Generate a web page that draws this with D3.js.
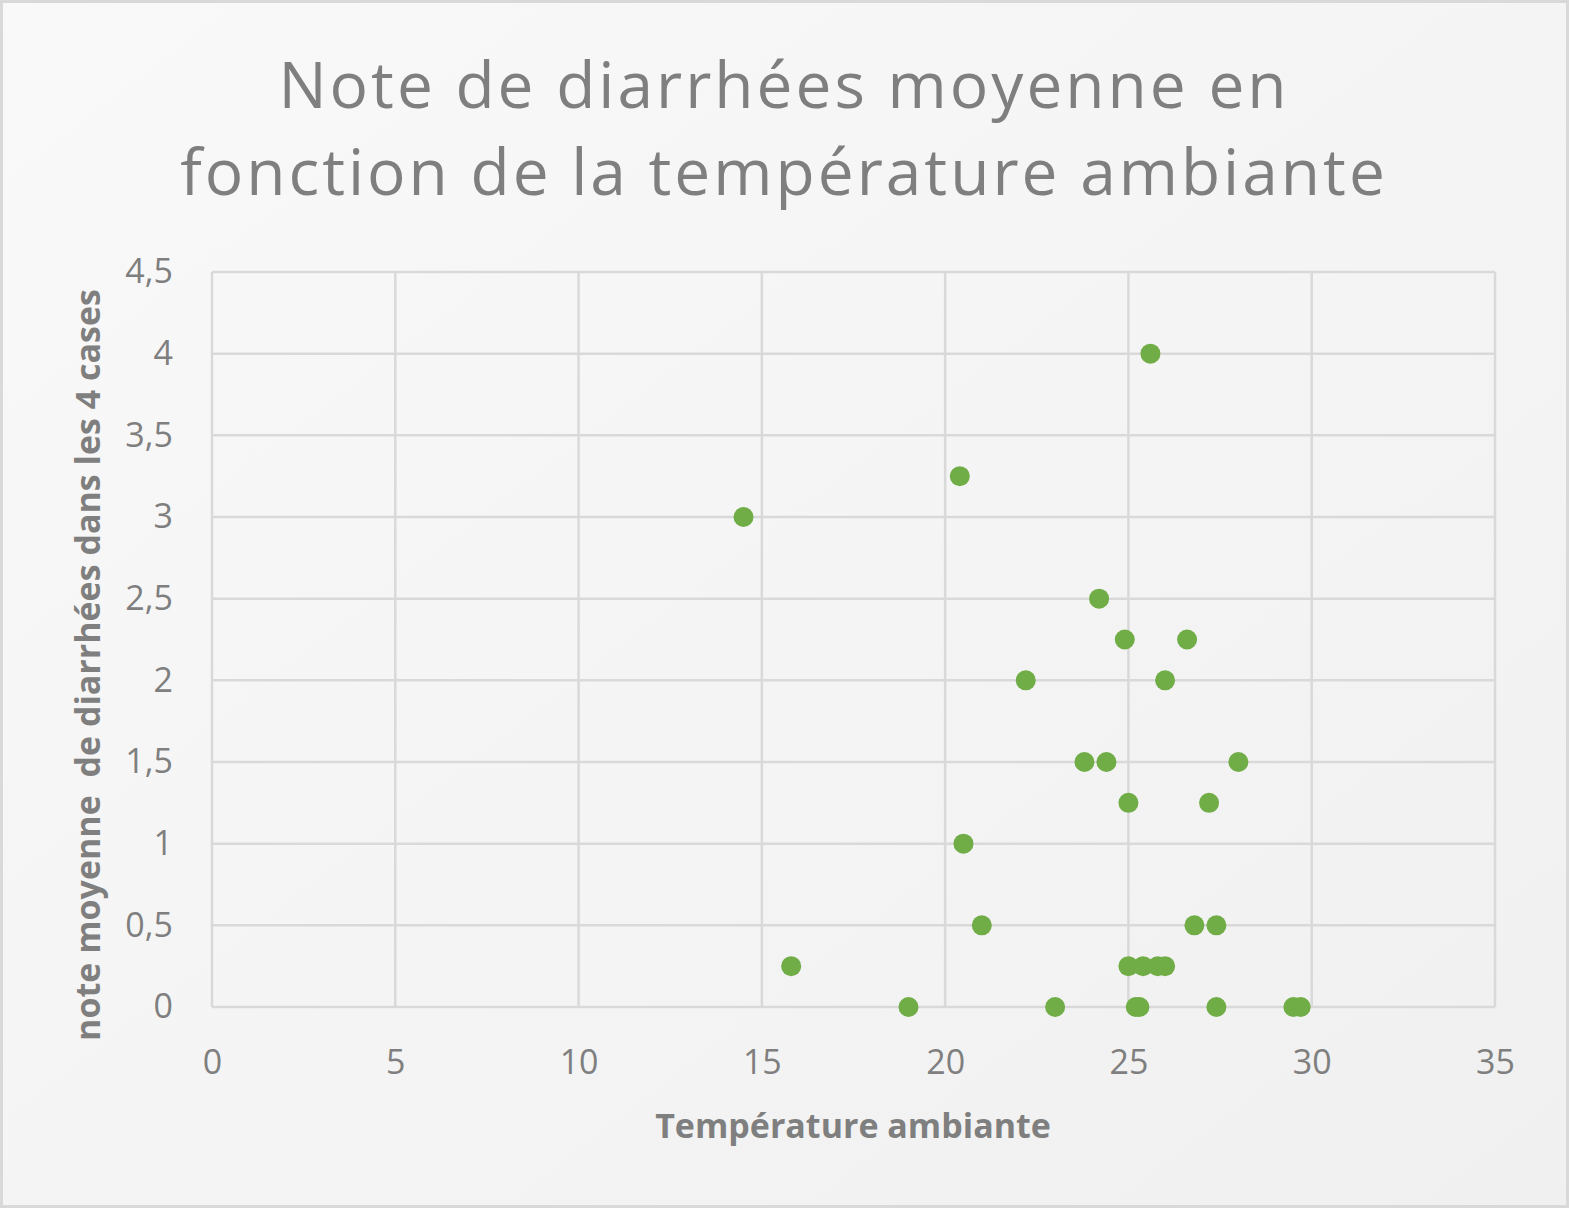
<!DOCTYPE html>
<html><head><meta charset="utf-8">
<script src="https://cdn.jsdelivr.net/npm/d3@7"></script>
<style>html,body{margin:0;padding:0;background:#fff;}svg{display:block;}</style>
</head><body>
<script>
const titleLines = ["Note de diarrhées moyenne en", "fonction de la température ambiante"];
const xLabel = "Température ambiante";
const yLabel = "note moyenne  de diarrhées dans les 4 cases";
const xTicks = [0,5,10,15,20,25,30,35];
const yTicks = [0,0.5,1,1.5,2,2.5,3,3.5,4,4.5];
const temperature = [14.5,15.8,19.0,20.4,20.5,21.0,22.2,23.0,23.8,24.2,24.4,24.9,25.0,25.0,25.2,25.3,25.4,25.6,25.8,26.0,26.0,26.6,26.8,27.2,27.4,27.4,28.0,29.5,29.7];
const note =        [3.0, 0.25,0.0, 3.25,1.0, 0.5, 2.0, 0.0, 1.5, 2.5, 1.5, 2.25,1.25,0.25,0.0, 0.0, 0.25,4.0, 0.25,2.0, 0.25,2.25,0.5, 1.25,0.5, 0.0, 1.5, 0.0, 0.0];

const W=1569,H=1208;
const svg=d3.select("body").append("svg").attr("width",W).attr("height",H);
const defs=svg.append("defs");
const g=defs.append("linearGradient").attr("id","bg").attr("x1","0").attr("y1","0").attr("x2","1").attr("y2","1");
g.append("stop").attr("offset","0").attr("stop-color","#f9f9f9");
g.append("stop").attr("offset","1").attr("stop-color","#f0f0f0");
svg.append("rect").attr("x",1.5).attr("y",1.5).attr("width",W-3).attr("height",H-3)
  .attr("fill","url(#bg)").attr("stroke","#d9d9d9").attr("stroke-width",3);

const x=d3.scaleLinear().domain([0,35]).range([212,1495]);
const y=d3.scaleLinear().domain([0,4.5]).range([1007,272]);
const fmt=d=>String(d).replace(".",",");

// gridlines
const grid=svg.append("g");
grid.selectAll(".gy").data(yTicks).join("line")
  .attr("x1",x(0)).attr("x2",x(35)).attr("y1",d=>y(d)).attr("y2",d=>y(d))
  .attr("stroke","#d9d9d9").attr("stroke-width",2.5);
grid.selectAll(".gx").data(xTicks).join("line")
  .attr("y1",y(0)).attr("y2",y(4.5)).attr("x1",d=>x(d)).attr("x2",d=>x(d))
  .attr("stroke","#d9d9d9").attr("stroke-width",2.5);

// axes (labels only)
const ax=svg.append("g").attr("transform",`translate(0,${y(0)+43})`)
  .call(d3.axisBottom(x).tickValues(xTicks).tickFormat(fmt).tickSize(0).tickPadding(0));
ax.select(".domain").remove();
ax.selectAll("text").attr("font-family","'Open Sans', sans-serif").attr("font-size",34).attr("fill","#7f7f7f").attr("dy","0.71em");

const ay=svg.append("g").attr("transform",`translate(${x(0)-39},0)`)
  .call(d3.axisLeft(y).tickValues(yTicks).tickFormat(fmt).tickSize(0).tickPadding(0));
ay.select(".domain").remove();
ay.selectAll("text").attr("font-family","'Open Sans', sans-serif").attr("font-size",34).attr("fill","#7f7f7f");

// points
svg.append("g").selectAll("circle").data(temperature.map((t,i)=>[t,note[i]])).join("circle")
  .attr("cx",d=>x(d[0])).attr("cy",d=>y(d[1])).attr("r",10).attr("fill","#70ad47");

// title
svg.append("g").selectAll("text").data(titleLines).join("text")
  .attr("x",784).attr("y",(d,i)=>108+i*87).attr("text-anchor","middle")
  .attr("font-family","'Open Sans', sans-serif").attr("font-size",64).attr("letter-spacing",3)
  .attr("fill","#7f7f7f").text(d=>d);

svg.append("text").attr("x",853).attr("y",1138).attr("text-anchor","middle")
  .attr("font-family","'Open Sans', sans-serif").attr("font-weight","bold").attr("font-size",34)
  .attr("fill","#7f7f7f").text(xLabel);
svg.append("text").attr("transform","translate(100,665) rotate(-90)").attr("text-anchor","middle")
  .style("white-space","pre")
  .attr("font-family","'Open Sans', sans-serif").attr("font-weight","bold").attr("font-size",34)
  .attr("fill","#7f7f7f").text(yLabel);
</script>
</body></html>
